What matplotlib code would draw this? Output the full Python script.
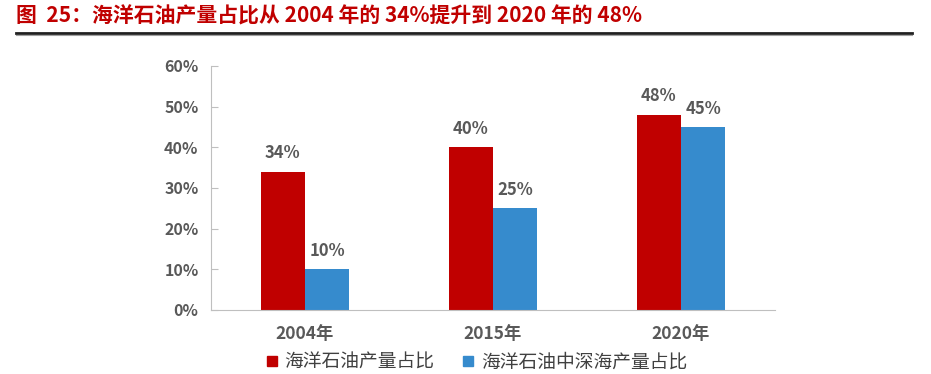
import matplotlib.pyplot as plt
import numpy as np
from matplotlib.lines import Line2D

plt.rcParams['font.family'] = ['Noto Sans CJK SC', 'DejaVu Sans']

years = ['2004年', '2015年', '2020年']
offshore_share = [34, 40, 48]
deepwater_share = [10, 25, 45]
series_names = ['海洋石油产量占比', '海洋石油中深海产量占比']
yticks = [0, 10, 20, 30, 40, 50, 60]

red = '#C00000'
blue = '#368BCD'
gray = '#595959'

fig = plt.figure(figsize=(9.31, 3.74), dpi=100)
ax = fig.add_axes([211 / 931, 1 - 310 / 374, 564 / 931, 244 / 374])

x = np.arange(len(years))
w = 0.235
b1 = ax.bar(x - w / 2, offshore_share, w, color=red)
b2 = ax.bar(x + w / 2, deepwater_share, w, color=blue)

for bars in (b1, b2):
    for r in bars:
        ax.text(r.get_x() + r.get_width() / 2, r.get_height() + 2.3, f"{r.get_height():.0f}%",
                ha='center', va='bottom', fontsize=12, color=gray, fontweight='bold')

ax.set_xlim(-0.5, 2.5)
ax.set_ylim(0, 60)
ax.set_yticks(yticks)
ax.set_yticklabels([f"{v}%" for v in yticks], fontsize=11.5, color=gray, fontweight='bold')
ax.set_xticks(x)
ax.set_xticklabels(years, fontsize=12.5, color=gray, fontweight='bold')
ax.tick_params(axis='x', length=0, pad=11)
ax.tick_params(axis='y', direction='in', length=5, color='#BFBFBF', pad=9)
for s in ('top', 'right'):
    ax.spines[s].set_visible(False)
ax.spines['left'].set_color('#BFBFBF')
ax.spines['bottom'].set_color('#BFBFBF')

handles = [Line2D([0], [0], marker='s', linestyle='none', markersize=7, color=c) for c in (red, blue)]
fig.legend(handles, series_names, loc='center', bbox_to_anchor=(474 / 931, 1 - 362 / 374),
           ncol=2, frameon=False, fontsize=13.5, handletextpad=0.1, columnspacing=1.2,
           handlelength=1.2, labelcolor='#404040')

fig.text(16 / 931, 1 - 16 / 374, '图  25：海洋石油产量占比从 2004 年的 34%提升到 2020 年的 48%',
         fontsize=15, color=red, fontweight='bold', va='center', ha='left')
fig.add_artist(Line2D([16 / 931, 912 / 931], [1 - 33 / 374] * 2, color='#202020', linewidth=2))
fig.add_artist(Line2D([16 / 931, 912 / 931], [1 - 35 / 374] * 2, color='#A0A0A0', linewidth=0.8))

fig.savefig('out.png', dpi=100)
